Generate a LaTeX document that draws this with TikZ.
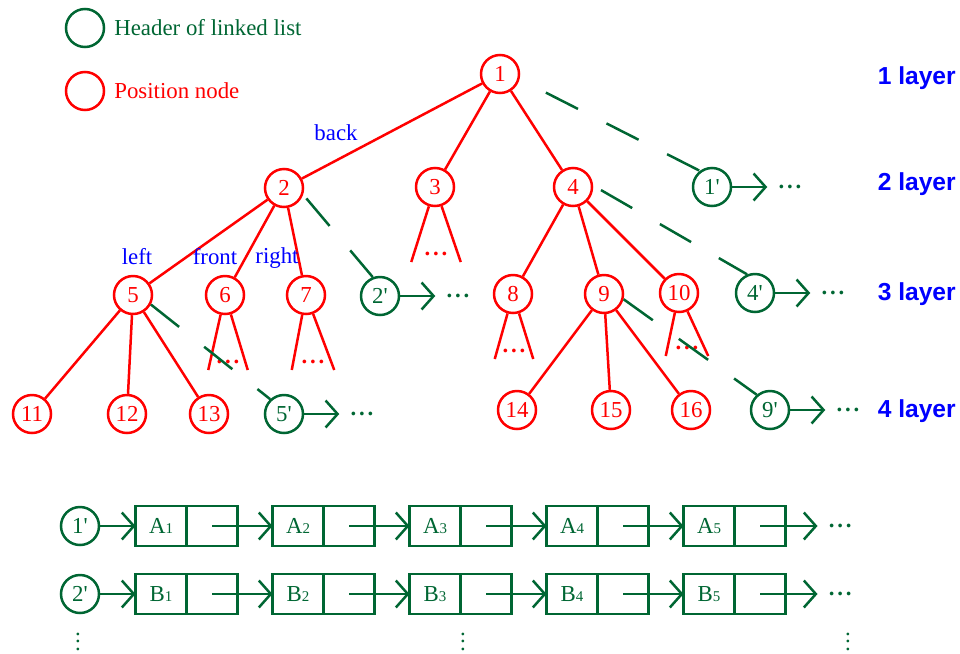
\documentclass[tikz,border=0pt]{standalone}
\usepackage{fontspec}
\setmainfont{Liberation Serif}
\newfontfamily\layerfont{Liberation Sans}
\usepackage{xcolor}
\usepackage{tikz}
\usetikzlibrary{arrows.meta,positioning}

\definecolor{lgreen}{RGB}{0,102,51}
% small index digit inside a list cell
\newcommand{\idx}[1]{{\fontsize{8.5pt}{10pt}\selectfont #1}}
% three heavy dots, the node box is just the dots
\newcommand{\dotrow}{\textbf{.\kern1.6pt.\kern1.6pt.}}

\begin{document}
\begin{tikzpicture}[x=0.2mm, y=-0.2mm, line width=0.5mm,
    font=\fontsize{13pt}{15pt}\selectfont,
    posn/.style={circle, draw=red, text=red, minimum size=7.6mm, inner sep=0pt},
    hdr/.style={circle, draw=lgreen, text=lgreen, minimum size=7.6mm, inner sep=0pt},
    tree/.style={red},
    link/.style={lgreen, dash pattern=on 7.2mm off 6.4mm},
    arr/.style={lgreen, -{Straight Barb[length=2.4mm, width=5.4mm]}},
    rdots/.style={text=red, inner xsep=0pt, inner ysep=2.6pt, anchor=south},
    gdots/.style={text=lgreen, inner xsep=2mm, inner ysep=0pt},
    cell/.style={draw=lgreen, text=lgreen, minimum width=10.2mm, minimum height=8mm, inner sep=0pt, outer sep=0pt},
    tag/.style={text=blue},
    layer/.style={text=blue, font=\layerfont\bfseries\fontsize{14pt}{16pt}\selectfont, anchor=east, inner sep=0pt}]
    \useasboundingbox (0,0) rectangle (960,653);

    % legend
    \node[hdr] (keyh) at (85,28) {};
    \node[text=lgreen, right=0.4mm of keyh] (keyhtxt) {Header of linked list};
    \node[posn] (keyp) at (85,91) {};
    \node[text=red, right=0.4mm of keyp] (keyptxt) {Position node};

    % position tree
    \node[posn] (n1) at (500,74) {1};
    \node[posn] (n2) at (284,188) {2};
    \node[posn] (n3) at (435,187) {3};
    \node[posn] (n4) at (573,187) {4};
    \node[posn] (n5) at (133,295) {5};
    \node[posn] (n6) at (225,295) {6};
    \node[posn] (n7) at (306,295) {7};
    \node[posn] (n8) at (513,294) {8};
    \node[posn] (n9) at (604,294) {9};
    \node[posn] (n10) at (679,293) {10};
    \node[posn] (n11) at (32,414) {11};
    \node[posn] (n12) at (127,414) {12};
    \node[posn] (n13) at (209,414) {13};
    \node[posn] (n14) at (517,410) {14};
    \node[posn] (n15) at (611,410) {15};
    \node[posn] (n16) at (691,410) {16};
    \foreach \a/\b in {1/2,1/3,1/4,2/5,2/6,2/7,4/8,4/9,4/10,5/11,5/12,5/13,9/14,9/15,9/16}
        \draw[tree] (n\a) -- (n\b);

    % subtrees left open
    \foreach \n/\x/\y/\w in {3/436/262/9.4mm, 6/228/370/7.4mm, 7/313/370/8mm, 8/514/359/7.2mm, 10/687/356/8mm} {
        \node[rdots, minimum width=\w] (d\n) at (\x,\y) {\dotrow};
        \draw[tree] (n\n) -- (d\n.south west) (n\n) -- (d\n.south east);
    }

    % headers of the linked lists
    \foreach \n/\x/\y in {1/712/187, 2/380/296, 4/755/293, 5/284/414, 9/770/410} {
        \node[hdr] (h\n) at (\x,\y) {\n\textquotesingle};
        \node[gdots, right=7mm of h\n] (e\n) {\dotrow};
        \draw[arr] (h\n) -- (e\n);
    }
    \draw[link, dash phase=7.7mm] (n1.-15) -- (h1.127);
    \draw[link, dash phase=12.6mm] (n2.-19) -- (h2.111);
    \draw[link, dash phase=11.8mm] (n4.4) -- (h4.113);
    \draw[link] (n5.-28) -- (h5.133);
    \draw[link] (n9.-15) -- (h9.131);

    \node[tag] (back) at (336,133) {back};
    \node[tag] (left) at (137,257) {left};
    \node[tag] (front) at (215,257) {front};
    \node[tag] (right) at (277,258) {right};

    \node[layer] (lay1) at (957,78) {1 layer};
    \node[layer] (lay2) at (957,184) {2 layer};
    \node[layer] (lay3) at (957,294) {3 layer};
    \node[layer] (lay4) at (957,411) {4 layer};

    % the lists themselves
    \node[hdr] (r1) at (80,526) {1\textquotesingle};
    \node[hdr] (r2) at (80,594) {2\textquotesingle};
    \foreach \L/\y/\h in {A/526/r1, B/594/r2} {
        \node[cell] (\L1) at (161,\y) {\L\idx{1}};
        \node[cell, right=0pt of \L1] (\L1-p) {};
        \draw[arr] (\h) -- (\L1);
        \foreach \i [count=\j from 2] in {1,...,4} {
            \node[cell, right=7mm of \L\i-p] (\L\j) {\L\idx{\j}};
            \node[cell, right=0pt of \L\j] (\L\j-p) {};
            \draw[arr] (\L\i-p.center) -- (\L\j);
        }
        \node[gdots, right=6.4mm of \L5-p] (\L-end) {\dotrow};
        \draw[arr] (\L5-p.center) -- (\L-end);
    }
    \node[gdots, anchor=base, inner sep=0pt] (v1) at (78,650) {$\vdots$};
    \node[gdots, anchor=base, inner sep=0pt] (v2) at (463,650) {$\vdots$};
    \node[gdots, anchor=base, inner sep=0pt] (v3) at (848,650) {$\vdots$};
\end{tikzpicture}
\end{document}
